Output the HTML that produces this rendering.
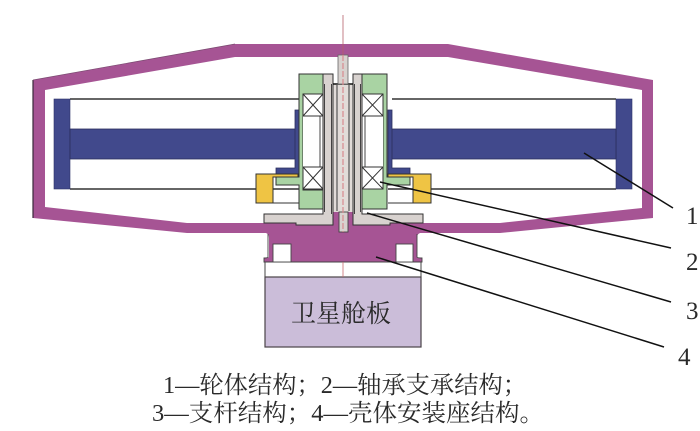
<!DOCTYPE html>
<html>
<head>
<meta charset="utf-8">
<style>
html,body{margin:0;padding:0;background:#fff;width:700px;height:431px;overflow:hidden}
svg{display:block}
text{font-family:"Liberation Serif","Noto Serif CJK SC",serif;fill:#2a2a2a}
</style>
</head>
<body>
<svg width="700" height="431" viewBox="0 0 700 431" xmlns="http://www.w3.org/2000/svg">
<!-- shell -->
<path fill-rule="evenodd" d="M33 80L235 44H448L653 80V218L500 233H187L33 218ZM45 90V207L187 223H500L642 208V90L448 57H235Z" fill="#a65494"/>
<path d="M33 218V80" fill="none" stroke="#3a2a3a" stroke-width="1.2"/>
<path d="M33 80L235 44" fill="none" stroke="#7a4a70" stroke-width=".7"/>
<!-- wheel -->
<path d="M70 99H300M392 99H616M70 189H299M388 189H616" stroke="#333" stroke-width="1.4" fill="none"/>
<rect x="54" y="99" width="16" height="90" fill="#41498c" stroke="#2d3268" stroke-width=".6"/>
<rect x="616" y="99" width="16" height="90" fill="#41498c" stroke="#2d3268" stroke-width=".6"/>
<rect x="70" y="129" width="226" height="30" fill="#41498c" stroke="#2b2f5c" stroke-width=".8"/>
<rect x="391" y="129" width="225" height="30" fill="#41498c" stroke="#2b2f5c" stroke-width=".8"/>
<path d="M295 110H299V174H276V168H295Z" fill="#41498c" stroke="#2b2f5c" stroke-width=".8"/>
<path d="M392 110H388V174H410V168H392Z" fill="#41498c" stroke="#2b2f5c" stroke-width=".8"/>
<!-- panel and white gap -->
<rect x="265" y="262" width="156" height="15" fill="#fff" stroke="#444" stroke-width="1"/>
<rect x="265" y="277" width="156" height="70" fill="#cbbdd9" stroke="#4a4448" stroke-width="1.2"/>
<!-- mount -->
<path d="M240 223H447V233H420Q417 234 417 238V257Q418 258 422 258V262H264V258Q268 258 269 257V238Q269 234 266 233H240Z" fill="#a65494"/>
<path d="M268 234V257Q268 258 264 258V262H422V258Q417 258 417 257V234" fill="none" stroke="#444" stroke-width=".9"/>
<rect x="273" y="244" width="18" height="18" fill="#fff" stroke="#444" stroke-width=".9"/>
<rect x="396" y="244" width="17" height="18" fill="#fff" stroke="#444" stroke-width=".9"/>
<!-- yellow -->
<path d="M256 174H298V177H273V203H256Z" fill="#efc444" stroke="#333" stroke-width="1"/>
<path d="M431 174H388V177H413V203H431Z" fill="#efc444" stroke="#333" stroke-width="1"/>
<path d="M273 203H299M388 203H413" stroke="#333" stroke-width="1"/>
<!-- green -->
<path d="M299 74H323V94H303V190H323V209H299V185H276V177H299Z" fill="#a9d3a3" stroke="#333" stroke-width="1"/>
<path d="M362 74H387V177H410V185H387V209H362V189H383V94H362Z" fill="#a9d3a3" stroke="#333" stroke-width="1"/>
<!-- bearing bores -->
<rect x="303" y="116" width="20" height="51" fill="#fff"/>
<rect x="362" y="116" width="21" height="51" fill="#fff"/>
<path d="M320 116V167M365 116V167" stroke="#444" stroke-width="1"/>
<g fill="#fff" stroke="#333" stroke-width="1">
<rect x="303" y="94" width="20" height="22"/>
<rect x="362" y="94" width="21" height="22"/>
<rect x="303" y="167" width="20" height="22"/>
<rect x="362" y="167" width="21" height="22"/>
</g>
<path d="M303 94L323 116M323 94L303 116M362 94L383 116M383 94L362 116M303 167L323 189M323 167L303 189M362 167L383 189M383 167L362 189" stroke="#333" stroke-width="1" fill="none"/>
<!-- central struts -->
<rect x="333" y="84" width="20" height="130" fill="#e2dcd9"/>
<path d="M323 74H333V225H296V223H264V214H323Z" fill="#d8d2cf" stroke="#333" stroke-width="1"/>
<path d="M362 74H353V225H390V223H423V214H362Z" fill="#d8d2cf" stroke="#333" stroke-width="1"/>
<path d="M324.5 84V212M331.5 84V214M354.5 84V214M360.5 84V212" stroke="#333" stroke-width=".9" fill="none"/>
<path d="M333 84H353" stroke="#111" stroke-width="1.6"/>
<path d="M337 84V211M349 84V211" stroke="#555" stroke-width="1.2"/>
<rect x="333.5" y="212" width="19" height="14" fill="#a65494"/>
<!-- shaft and pin -->
<rect x="338" y="55" width="10" height="29" fill="#d8d2cf" stroke="#666" stroke-width=".8"/>
<rect x="339" y="212" width="9" height="20" fill="#d8d2cf" stroke="#444" stroke-width=".9"/>
<!-- centre line -->
<path d="M343 15V55" stroke="#b5606a" stroke-width=".8"/>
<path d="M343 55V232" stroke="#d98a90" stroke-width="1.2" stroke-dasharray="6 2"/>
<path d="M343 262V277" stroke="#c86a70" stroke-width=".8"/>
<!-- leaders -->
<g stroke="#111" stroke-width="1.5" fill="none">
<path d="M584 153L673 208"/>
<path d="M380 182L671 248"/>
<path d="M367 213L671 302"/>
<path d="M376 257L664 347"/>
</g>
<!-- labels -->
<g font-size="25">
<text x="686" y="224">1</text>
<text x="686" y="270">2</text>
<text x="686" y="319">3</text>
<text x="678" y="365">4</text>
<text x="291" y="322" textLength="100" lengthAdjust="spacingAndGlyphs">卫星舱板</text>
</g>
<g font-size="24">
<text x="163" y="393" textLength="364" lengthAdjust="spacingAndGlyphs">1—轮体结构；2—轴承支承结构；</text>
<text x="152" y="421" textLength="392" lengthAdjust="spacingAndGlyphs">3—支杆结构；4—壳体安装座结构。</text>
</g>
</svg>
</body>
</html>
